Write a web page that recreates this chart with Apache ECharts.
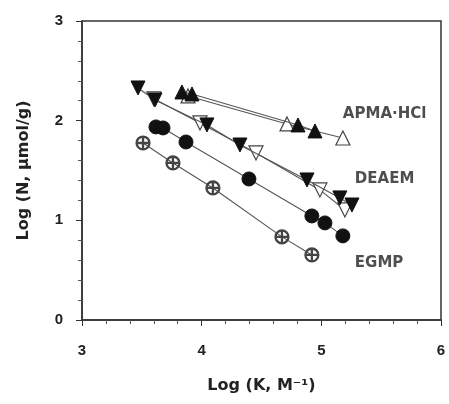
<!DOCTYPE html>
<html><head><meta charset="utf-8">
<script src="https://cdn.jsdelivr.net/npm/echarts@6/dist/echarts.min.js"></script>
<style>html,body{margin:0;padding:0;background:#fff}#c{width:449px;height:404px}</style>
</head><body><div id="c"></div>
<script>
// Data (log K, log N)
const apmaFilled = [[3.835,2.288],[3.919,2.268],[4.805,1.957],[4.947,1.897]];
const apmaOpen   = [[3.886,2.248],[4.713,1.967],[5.180,1.826]];
const deaemFilled= [[3.468,2.328],[3.610,2.208],[4.044,1.957],[4.320,1.756],[4.880,1.405],[5.155,1.225],[5.256,1.154]];
const deaemOpen  = [[3.600,2.220],[3.986,1.977],[4.454,1.676],[4.988,1.305],[5.197,1.104]];
const egmpFilled = [[3.618,1.937],[3.677,1.927],[3.869,1.786],[4.395,1.415],[4.921,1.044],[5.030,0.974],[5.180,0.844]];
const egmpOpen   = [[3.510,1.776],[3.760,1.576],[4.094,1.325],[4.671,0.834],[4.921,0.653]];
const seriesLabels = [
  {text:'APMA·HCl', x:5.18, y:2.07},
  {text:'DEAEM', x:5.28, y:1.415},
  {text:'EGMP', x:5.28, y:0.57}
];
const xTicks = [3,4,5,6];
const yTicks = [0,1,2,3];

const FONT = 'DejaVu Sans, Liberation Sans, Arial';
const chart = echarts.init(document.getElementById('c'));
const lineStyle = {color:'#555', width:1.1};
function s(data, symbol, filled, size, rotate){
  return {type:'line', data:data, symbol:symbol, symbolSize:size, symbolRotate:rotate||0,
    lineStyle:lineStyle,
    itemStyle: filled ? {color:'#111', borderColor:'#111', borderWidth:1}
                      : {color:'#fff', borderColor:'#444', borderWidth:1.2},
    z: filled?3:2, animation:false};
}
const crossCircle = 'path://M50,0A50,50 0 1,1 49.99,0Z M50,8A42,42 0 1,0 50.01,8Z M46,15H54V85H46Z M15,46H85V54H15Z';
chart.setOption({
  animation:false,
  grid:{left:82, right:8, top:21, bottom:84, show:true, borderColor:'#333', borderWidth:1.5},
  xAxis:{type:'value', min:xTicks[0], max:xTicks[xTicks.length-1], interval:1,
    axisLine:{lineStyle:{color:'#333', width:1.5}},
    axisTick:{length:6, lineStyle:{color:'#333'}},
    minorTick:{show:true, splitNumber:5, length:4, lineStyle:{color:'#555'}},
    splitLine:{show:false},
    axisLabel:{color:'#222', fontSize:15, fontWeight:'bold', fontFamily:'Liberation Sans, Arial', margin:23},
    name:'Log (K, M\u207B\u00B9)', nameLocation:'middle', nameGap:58,
    nameTextStyle:{color:'#222', fontSize:16, fontWeight:'bold', fontFamily:FONT}
  },
  yAxis:{type:'value', min:yTicks[0], max:yTicks[yTicks.length-1], interval:1,
    axisLine:{lineStyle:{color:'#333', width:1.5}},
    axisTick:{length:6, lineStyle:{color:'#333'}},
    minorTick:{show:true, splitNumber:5, length:4, lineStyle:{color:'#555'}},
    splitLine:{show:false},
    axisLabel:{color:'#222', fontSize:15, fontWeight:'bold', fontFamily:'Liberation Sans, Arial', margin:19},
    name:'Log (N, \u03BCmol/g)', nameLocation:'middle', nameGap:50,
    nameTextStyle:{color:'#222', fontSize:16, fontWeight:'bold', fontFamily:FONT}
  },
  series:[
    s(apmaOpen,'triangle',false,14),
    s(apmaFilled,'triangle',true,14),
    s(deaemOpen,'triangle',false,14,180),
    s(deaemFilled,'triangle',true,14,180),
    s(egmpOpen,crossCircle,false,14),
    s(egmpFilled,'circle',true,14),
    {type:'scatter', data:seriesLabels.map(d=>[d.x,d.y,d.text]), symbolSize:0, silent:true,
      label:{show:true, position:'right', distance:0, formatter:p=>p.value[2],
        color:'#222', fontSize:15, fontWeight:'bold', fontFamily:FONT}}
  ]
});
</script></body></html>
